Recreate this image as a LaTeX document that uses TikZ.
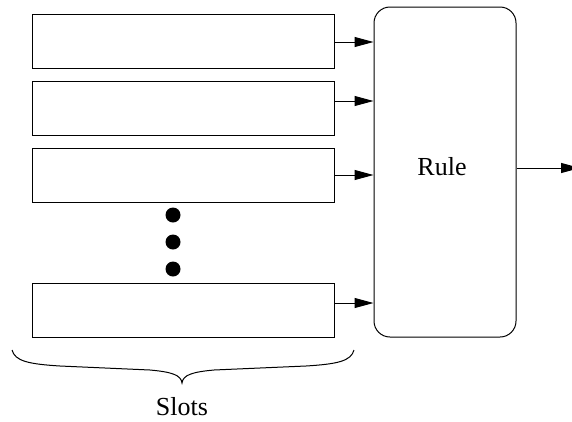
\documentclass[tikz,border=0pt]{standalone}
\usepackage{fontspec}
\setmainfont{Liberation Serif}
\usetikzlibrary{arrows.meta}
\begin{document}
\begin{tikzpicture}[x=1pt,y=-1pt,
  slotbox/.style={draw, line width=1pt, minimum width=302pt, minimum height=54pt, inner sep=0pt},
  conn/.style={line width=1pt, -{Triangle[length=19pt,width=10pt]}},
  dotmark/.style={fill=black, circle, minimum size=15pt, inner sep=0pt},
  lbl/.style={font=\fontsize{26}{30}\selectfont, inner sep=0pt}]
\useasboundingbox (0,0) rectangle (572,421);
\node[slotbox] (s1) at (183,41) {};
\node[slotbox] (s2) at (183,108) {};
\node[slotbox] (s3) at (183,175.5) {};
\node[slotbox] (s4) at (183,310) {};
\node[draw, line width=1pt, rounded corners=16pt, minimum width=142pt, minimum height=330pt, inner sep=0pt] (rule) at (445,172) {};
\node[lbl] (rulelbl) at (442,167) {Rule};
\node[dotmark] (d1) at (173,215) {};
\node[dotmark] (d2) at (173,242) {};
\node[dotmark] (d3) at (173,269) {};
\draw[conn] (s1.east |- 0,42) -- (rule.west |- 0,42);
\draw[conn] (s2.east |- 0,101) -- (rule.west |- 0,101);
\draw[conn] (s3.east |- 0,175) -- (rule.west |- 0,175);
\draw[conn] (s4.east |- 0,303) -- (rule.west |- 0,303);
\coordinate (out) at (580,168);
\draw[conn] (rule.east |- out) -- (out);
\draw[line width=1pt] (12,350) .. controls (15,361) and (28,364) .. (60,366)
  -- (150,370) .. controls (172,372) and (181,375) .. (182,383)
  .. controls (183,375) and (192,372) .. (214,370)
  -- (306,366) .. controls (338,364) and (351,361) .. (354,350);
\node[lbl] (slots) at (182,407) {Slots};
\end{tikzpicture}
\end{document}
